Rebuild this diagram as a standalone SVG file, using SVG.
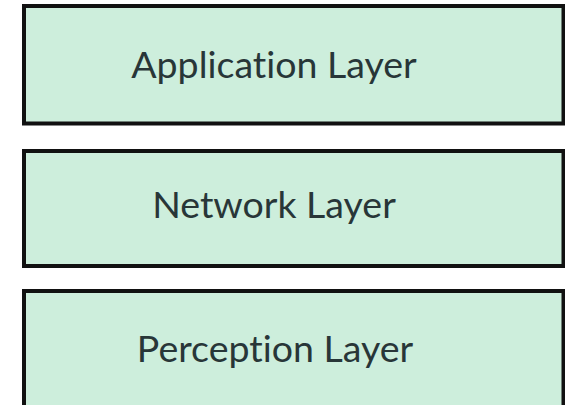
<svg xmlns="http://www.w3.org/2000/svg" width="565" height="405" viewBox="0 0 565 405">
<style>
.box{fill:#cdeedc;stroke:#111;stroke-width:4}
.lbl{font-family:Lato,"Open Sans","Liberation Sans",sans-serif;font-size:37.5px;fill:#283638;text-anchor:middle;font-variant-ligatures:none;font-feature-settings:"liga" 0}
</style>
<rect width="565" height="405" fill="#fff"/>
<g id="application">
<rect class="box" x="24" y="6" width="539.5" height="117.5"/>
<text class="lbl" x="274" y="78">Application Layer</text>
</g>
<g id="network">
<rect class="box" x="24" y="151" width="539.5" height="115"/>
<text class="lbl" x="274" y="218">Network Layer</text>
</g>
<g id="perception">
<rect class="box" x="24" y="291" width="539.5" height="116"/>
<text class="lbl" x="275" y="362">Perception Layer</text>
</g>
<g id="connectors"></g>
</svg>
